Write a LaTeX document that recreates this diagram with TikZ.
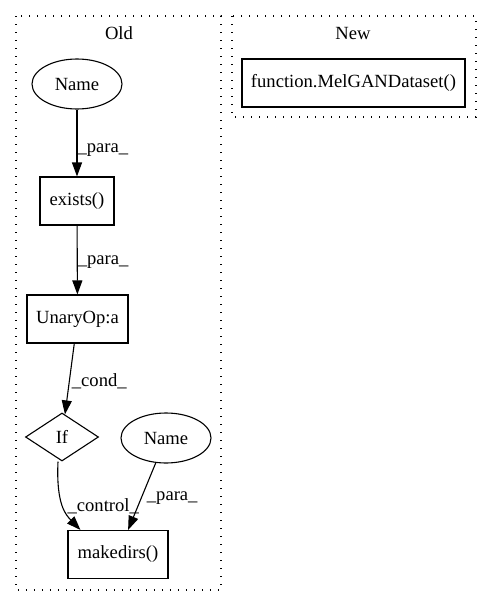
\documentclass[tikz,border=0pt]{standalone}
\usepackage{fontspec}
\setmainfont{Liberation Serif}
\usetikzlibrary{arrows.meta,positioning,shapes.geometric}

\tikzset{
  every node/.style={font=\fontsize{18.6}{22}\selectfont},
  callbox/.style={draw, line width=1.1pt, rectangle, inner sep=0pt, minimum height=48pt},
  namenode/.style={draw, line width=1.1pt, ellipse, inner sep=0pt, minimum width=90pt, minimum height=50pt},
  condnode/.style={draw, line width=1.1pt, diamond, aspect=1.5, inner sep=0pt, minimum width=73pt, minimum height=48pt},
  clusterbox/.style={line width=1.4pt, dash pattern=on 1.4pt off 6.6pt},
  flow/.style={line width=1.1pt, -{Triangle[length=14pt,width=10pt]}},
  elabel/.style={anchor=west, inner sep=0pt}
}

\begin{document}
\begin{tikzpicture}[x=1pt,y=1pt]
  \useasboundingbox (0,0) rectangle (491,-606);

  % clusters
  \draw[clusterbox] (16,-16) rectangle (221,-590);
  \node at (119,-33) {Old};
  \draw[clusterbox] (232,-16) rectangle (476,-117);
  \node at (353,-33) {New};

  % Old
  \node[namenode] (name1) at (77,-84) {Name};
  \node[callbox, minimum width=74pt] (exists) at (77,-201) {exists()};
  \node[callbox, minimum width=101pt] (unary) at (77.5,-319) {UnaryOp:a};
  \node[condnode] (ifnode) at (62,-437) {If};
  \node[namenode] (name2) at (166,-438) {Name};
  \node[callbox, minimum width=100pt] (makedirs) at (118,-554.5) {makedirs()};

  % New
  \node[callbox, minimum width=223pt] (melgan) at (353.5,-83) {function.MelGANDataset()};

  % edges
  \draw[flow] (name1) -- node[elabel, pos=0.6] {\_para\_} (exists);
  \draw[flow] (exists) -- node[elabel, pos=0.53] {\_para\_} (unary);
  \draw[flow] (unary) -- node[elabel, pos=0.53, xshift=2pt] {\_cond\_} (ifnode);
  \draw[flow] ([xshift=-4pt]ifnode.south) .. controls (56,-505) and (66,-515) .. ([xshift=13pt]makedirs.north west)
    node[elabel, pos=0.5, xshift=4pt] {\_control\_};
  \draw[flow] (name2) -- node[elabel, pos=0.52, xshift=5pt] {\_para\_} (makedirs);
\end{tikzpicture}
\end{document}
